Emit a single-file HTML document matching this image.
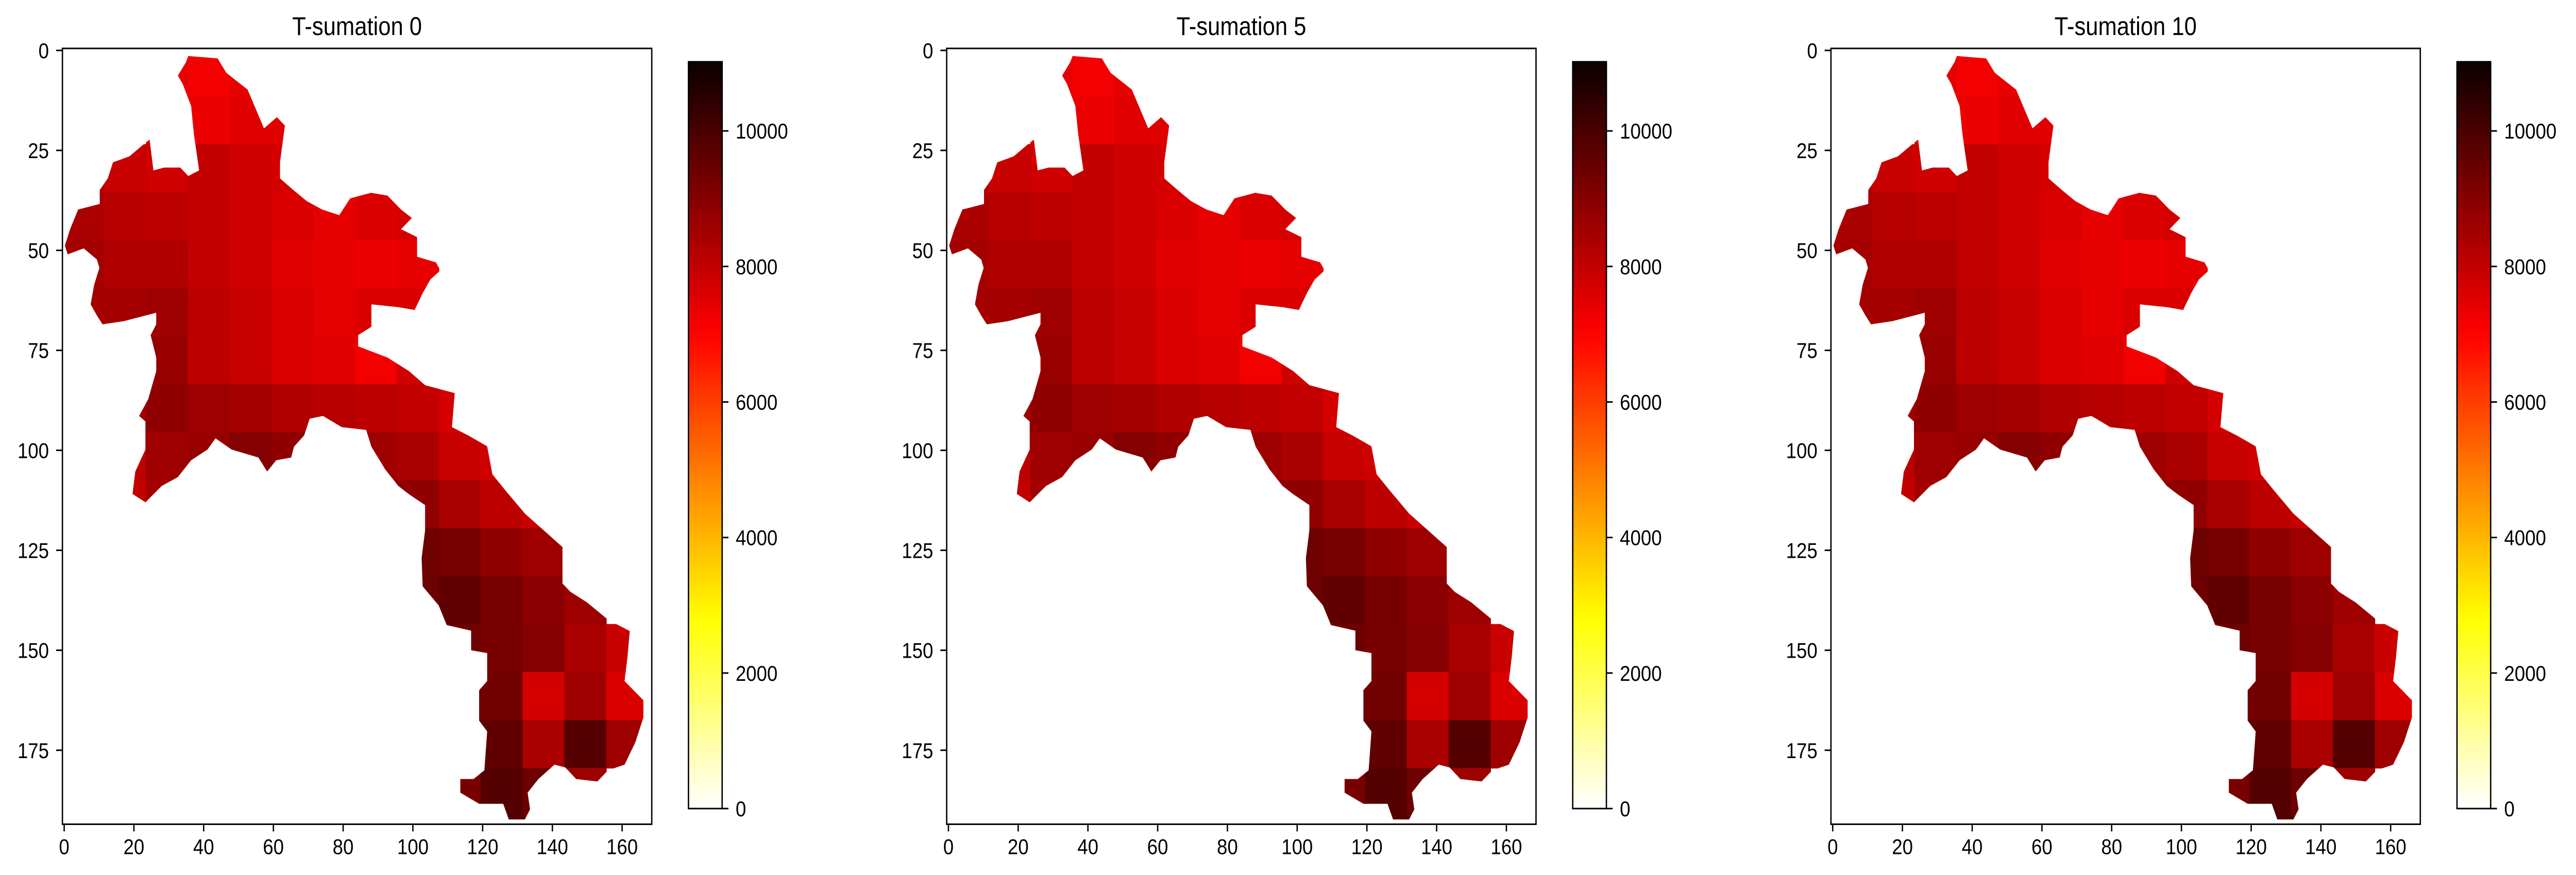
<!DOCTYPE html>
<html><head><meta charset="utf-8">
<style>
html,body{margin:0;padding:0;background:#fff;width:100%;height:100%;overflow:hidden;}
svg{display:block;position:absolute;left:0;top:0;width:100vw;height:100vh;font-family:"Liberation Sans","DejaVu Sans",sans-serif;}
</style></head>
<body>
<svg id="fig" viewBox="0 0 5736 1699" preserveAspectRatio="none" xmlns="http://www.w3.org/2000/svg"></svg>
<script>
// ---- data ----
const panelTitles = ["T-sumation 0", "T-sumation 5", "T-sumation 10"];
const xTickLabels = [0, 20, 40, 60, 80, 100, 120, 140, 160];
const yTickLabels = [0, 25, 50, 75, 100, 125, 150, 175];
const cbarTickLabels = [0, 2000, 4000, 6000, 8000, 10000];
const vMin = 0;
const vMax = 11020;
const nCols = 169;
const nRows = 194;
const blockSize = 12;
// outline of the valid region (column, row) in data units
const outlineCols = [35.6,44,46.5,52.6,57.3,61,63.3,61.9,61.9,65.7,69.6,74,78.9,82,88,92.7,96.6,99.7,96.6,101.2,101.2,106.6,107.9,105,102.8,100.5,95.8,88.1,88.1,84.3,84.3,92.7,98.9,103.5,112,111.2,115.9,121.3,122.8,126.7,132.1,137.5,142.9,142.9,145.2,149.9,156,162.2,161.5,160.7,166.1,166.1,163.8,160.7,156,152.9,146.8,143.7,140.6,136,132.9,133.6,132.1,127.5,125.9,119,113.6,113.6,117.4,120.5,121.3,119,119,121.3,121.3,116.7,116.7,109.7,107.4,102.8,102.5,103.5,103.5,98.9,95.8,92,88.1,86.6,79.6,74.2,70.4,68.8,65.9,65.1,60.8,58.2,55.7,48,43.4,41.1,36.4,32.6,28,23.3,19.6,20.4,23.3,23.3,21.5,24.1,26.4,26.4,24.8,26.4,26.4,17.1,11,9.4,7.6,8.6,10.1,9.4,5.6,1,0.2,1.7,4,10.2,10.2,12.5,14,18.7,22.5,24.5,25.6,28.7,33.3,35.6,38.7,37.2,36.4,34,32.6,34.9];
const outlineRows = [1.4,2,5.6,9.8,19.5,16.7,18.8,27.9,32,34.9,37.7,39.8,41.2,37,35.6,36.3,39.8,41.9,44.7,46.7,51.6,53,55,57.3,60.7,64.9,64.2,63.5,69.1,71.2,74,76.8,80.2,83.7,85.7,94.2,96.3,99,106,110.2,115.8,120,124.2,133.3,135.4,138,142.4,145.2,152,157.7,162.5,166.8,173,178.6,180,182.8,182.2,179.3,178.6,182.2,185.6,189.8,192.3,192.3,188.4,188.4,185.6,182.2,182.2,180,170.3,167.6,160,157.7,150.7,150,145.1,143.7,138.8,134,127,120,113.7,111,108.9,104.7,99.1,94.9,94.2,91.4,92.1,96.3,99.1,101.8,102.5,105.3,101.8,99.8,97,99.8,102.5,106.7,108.9,113,110.9,105.3,99.8,92.8,91.4,87.2,80.2,76.8,71.2,68.5,65.6,67.7,68.5,66.3,63.5,58.6,54.4,52.3,49.5,51,48.8,44.7,39.8,38.4,34.9,32,28,26.5,23.7,22.3,30,29.3,29.3,31.4,30,20.9,13.9,8.4,6.3,3];
// block values in hundreds (12x12 cell blocks), 0 = no data
const blockRow0  = [0,0,74,72,74,0,0,0,0,0,0,0,0,0,0];
const blockRow1  = [0,0,76,73,75,75,0,0,0,0,0,0,0,0,0];
const blockRow2  = [83,79,78,80,78,77,76,0,0,0,0,0,0,0,0];
const blockRow3  = [84,82,81,80,78,76,74,76,77,0,0,0,0,0,0];
const blockRow4  = [85,83,83,80,78,75,74,73,74,0,0,0,0,0,0];
const blockRow5  = [85,85,86,81,79,76,74,76,76,0,0,0,0,0,0];
const blockRow6  = [0,86,87,81,79,76,75,72,78,79,0,0,0,0,0];
const blockRow7  = [0,85,88,86,85,83,82,81,80,77,0,0,0,0,0];
const blockRow8  = [0,81,86,87,90,88,87,86,84,79,78,0,0,0,0];
const blockRow9  = [0,80,85,0,0,0,0,88,88,84,81,79,0,0,0];
const blockRow10 = [0,0,0,0,0,0,0,0,94,92,88,86,0,0,0];
const blockRow11 = [0,0,0,0,0,0,0,0,94,96,92,89,86,0,0];
const blockRow12 = [0,0,0,0,0,0,0,0,0,94,92,90,84,79,0];
const blockRow13 = [0,0,0,0,0,0,0,0,0,94,93,77,86,76,78];
const blockRow14 = [0,0,0,0,0,0,0,0,0,95,96,84,98,86,0];
const blockRow15 = [0,0,0,0,0,0,0,0,0,92,98,94,86,0,0];
const blockRow16 = [0,0,0,0,0,0,0,0,0,0,98,98,0,0,0];
const blockRows = [blockRow0,blockRow1,blockRow2,blockRow3,blockRow4,blockRow5,blockRow6,blockRow7,blockRow8,blockRow9,blockRow10,blockRow11,blockRow12,blockRow13,blockRow14,blockRow15,blockRow16];

// ---- layout ----
const NS = "http://www.w3.org/2000/svg";
const svg = document.getElementById('fig');
const PANEL_DX = 1969;
const AX_L = 139, AX_T = 94, CELL = 7.765;
const AX_R = AX_L + nCols * CELL, AX_B = AX_T + nRows * CELL;
const CB_L = 1533, CB_R = 1608, CB_T = 120, CB_B = 1570;

function mk(tag, attrs, parent) {
  const e = document.createElementNS(NS, tag);
  for (const k in attrs) e.setAttribute(k, attrs[k]);
  (parent || svg).appendChild(e);
  return e;
}
function hotR(v) {
  let t = (v - vMin) / (vMax - vMin);
  t = Math.max(0, Math.min(1, t));
  const x = 1 - t;
  const r = Math.min(1, 0.0416 + x / 0.365 * (1 - 0.0416));
  const g = Math.max(0, Math.min(1, (x - 0.365) / 0.381));
  const b = Math.max(0, Math.min(1, (x - 0.746) / 0.254));
  return 'rgb(' + Math.round(r * 255) + ',' + Math.round(g * 255) + ',' + Math.round(b * 255) + ')';
}

const defs = mk('defs', {});
const grad = mk('linearGradient', {id: 'cbgrad', x1: 0, y1: 1, x2: 0, y2: 0}, defs);
for (let i = 0; i <= 40; i++) {
  const f = i / 40;
  mk('stop', {offset: f, 'stop-color': hotR(vMin + f * (vMax - vMin))}, grad);
}

panelTitles.forEach(function (title, p) {
  const dx = p * PANEL_DX;
  const g = mk('g', {transform: 'translate(' + dx + ',0)'});
  
  
  const xs = function (c) { return AX_L + (c + 0.5) * CELL; };
  const ys = function (r) { return AX_T + (r + 0.5) * CELL; };

  const cp = mk('clipPath', {id: 'clip' + p}, defs);
  const pts = outlineCols.map(function (c, i) { return xs(c) + ',' + ys(outlineRows[i]); }).join(' ');
  mk('polygon', {points: pts}, cp);

  const heat = mk('g', {'clip-path': 'url(#clip' + p + ')'}, g);
  
  
  blockRows.forEach(function (row, ri) {
    row.forEach(function (val, ci) {
      if (!val) return;
      const c0 = ci * blockSize, r0 = ri * blockSize;
      const cell = mk('rect', {
        x: xs(c0 - 0.5) - 0.5, y: ys(r0 - 0.5) - 0.5,
        width: blockSize * CELL + 1, height: blockSize * CELL + 1,
        fill: hotR(val * 100)
      }, heat);
      
      
    });
  });

  const frame = mk('rect', {x: AX_L, y: AX_T, width: AX_R - AX_L, height: AX_B - AX_T, fill: 'none', stroke: '#000', 'stroke-width': 3}, g);
  
  

  xTickLabels.forEach(function (v) {
    const x = xs(v);
    mk('line', {x1: x, x2: x, y1: AX_B, y2: AX_B + 14, stroke: '#000', 'stroke-width': 3}, g);
    const t = mk('text', {x: x, y: AX_B + 58, 'font-size': 42, 'text-anchor': 'middle'}, g);
    t.textContent = v;
    
    
  });
  yTickLabels.forEach(function (v) {
    const y = ys(v);
    mk('line', {x1: AX_L - 14, x2: AX_L, y1: y, y2: y, stroke: '#000', 'stroke-width': 3}, g);
    const t = mk('text', {x: AX_L - 30, y: y + 15, 'font-size': 42, 'text-anchor': 'end'}, g);
    t.textContent = v;
    
    
  });
  const tt = mk('text', {x: (AX_L + AX_R) / 2, y: 68, 'font-size': 50, 'text-anchor': 'middle'}, g);
  tt.textContent = title;
  
  

  const cb = mk('rect', {x: CB_L, y: CB_T, width: CB_R - CB_L, height: CB_B - CB_T, fill: 'url(#cbgrad)', stroke: '#000', 'stroke-width': 3}, g);
  
  
  cbarTickLabels.forEach(function (v) {
    const y = CB_B - (v - vMin) / (vMax - vMin) * (CB_B - CB_T);
    mk('line', {x1: CB_R, x2: CB_R + 14, y1: y, y2: y, stroke: '#000', 'stroke-width': 3}, g);
    const t = mk('text', {x: CB_R + 30, y: y + 15, 'font-size': 42}, g);
    t.textContent = v;
    
    
  });
});
</script>
</body></html>
